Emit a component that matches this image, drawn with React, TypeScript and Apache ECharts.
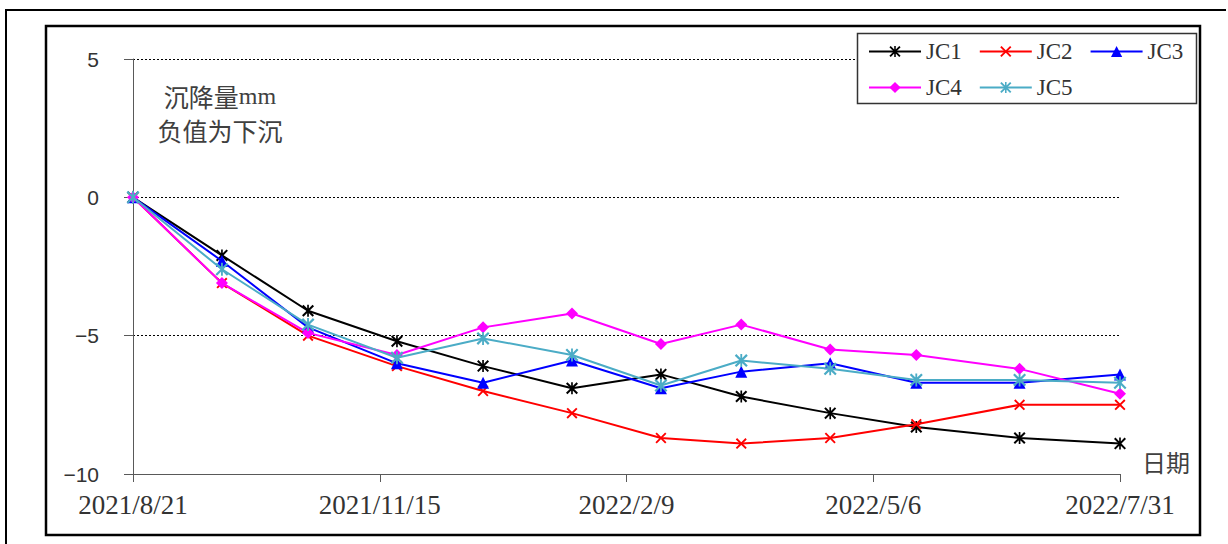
import React, { useEffect, useRef } from "react";
import * as echarts from "echarts";

const dates = [
  "2021-08-21", "2021-09-21", "2021-10-21", "2021-11-21", "2021-12-21", "2022-01-21",
  "2022-02-21", "2022-03-21", "2022-04-21", "2022-05-21", "2022-06-26", "2022-07-31",
];
const jc1 = [0, -2.1, -4.1, -5.2, -6.1, -6.9, -6.4, -7.2, -7.8, -8.3, -8.7, -8.9];
const jc2 = [0, -3.1, -5.0, -6.1, -7.0, -7.8, -8.7, -8.9, -8.7, -8.2, -7.5, -7.5];
const jc3 = [0, -2.3, -4.7, -6.0, -6.7, -5.9, -6.9, -6.3, -6.0, -6.7, -6.7, -6.4];
const jc4 = [0, -3.1, -4.9, -5.7, -4.7, -4.2, -5.3, -4.6, -5.5, -5.7, -6.2, -7.1];
const jc5 = [0, -2.6, -4.6, -5.8, -5.1, -5.7, -6.8, -5.9, -6.2, -6.6, -6.6, -6.7];
const seriesNames = ["JC1", "JC2", "JC3", "JC4", "JC5"];
const axisStart = "2021-08-21";
const axisEnd = "2022-07-31";
const tickDays = 86;

const DAY = 86400000;
const startMs = Date.parse(axisStart);
const toDay = (d: string) => Math.round((Date.parse(d) - startMs) / DAY);
const fmtDate = (v: number) => {
  const d = new Date(startMs + v * DAY);
  return `${d.getUTCFullYear()}/${d.getUTCMonth() + 1}/${d.getUTCDate()}`;
};

const X_PATH = "path://M0,1.2L1.2,0L5,3.8L8.8,0L10,1.2L6.2,5L10,8.8L8.8,10L5,6.2L1.2,10L0,8.8L3.8,5Z";
const STAR_PATH =
  "path://M0,1.2L1.2,0L5,3.8L8.8,0L10,1.2L6.2,5L10,8.8L8.8,10L5,6.2L1.2,10L0,8.8L3.8,5ZM4.3,0L5.7,0L5.7,10L4.3,10Z";

export default function App() {
  const ref = useRef<HTMLDivElement>(null);
  useEffect(() => {
    if (!ref.current) return;
    const chart = echarts.init(ref.current, undefined, { renderer: "svg" });
    const values = [jc1, jc2, jc3, jc4, jc5];
    const colors = ["#000000", "#FF0000", "#0000FF", "#FF00FF", "#4BACC6"];
    const symbols = [STAR_PATH, X_PATH, "triangle", "diamond", STAR_PATH];
    const sizes = [12, 11, 12, 12, 13];
    const series = values.map((arr, i) => ({
      name: seriesNames[i],
      type: "line",
      data: arr.map((v, j) => [toDay(dates[j]), v]),
      symbol: symbols[i],
      symbolSize: sizes[i],
      showAllSymbol: true,
      lineStyle: { color: colors[i], width: 2 },
      itemStyle: { color: colors[i] },
      z: 2 + i,
    }));
    const legendText = {
      fontFamily: "Liberation Serif",
      fontSize: 23,
      color: "#333",
    };
    const legendBase = {
      left: 868,
      padding: 0,
      itemWidth: 52,
      itemHeight: 14,
      itemGap: 17,
      orient: "horizontal",
      textStyle: legendText,
      z: 10,
    };
    chart.setOption({
      animation: false,
      backgroundColor: "#fff",
      grid: { left: 133, top: 59, width: 987, height: 415, containLabel: false },
      legend: [
        { ...legendBase, top: 40, data: seriesNames.slice(0, 3) },
        { ...legendBase, top: 76, data: seriesNames.slice(3) },
      ],
      xAxis: {
        type: "value",
        min: 0,
        max: toDay(axisEnd),
        interval: tickDays,
        axisLine: { show: true, onZero: false, lineStyle: { color: "#595959", width: 1 } },
        axisTick: { show: true, length: 8, lineStyle: { color: "#595959" } },
        axisLabel: {
          formatter: (v: number) => fmtDate(v),
          margin: 17,
          fontFamily: "Liberation Serif",
          fontSize: 27,
          color: "#333",
          showMinLabel: true,
          showMaxLabel: true,
        },
        splitLine: { show: false },
      },
      yAxis: {
        type: "value",
        min: -10,
        max: 5,
        interval: 5,
        axisLine: { show: true, onZero: false, lineStyle: { color: "#595959", width: 1 } },
        axisTick: { show: true, length: 9, lineStyle: { color: "#595959" } },
        axisLabel: {
          formatter: (v: number) => String(v).replace("-", "\u2212"),
          margin: 34,
          fontFamily: "Liberation Sans",
          fontSize: 21,
          color: "#333",
        },
        splitLine: { show: true, lineStyle: { color: "#000", type: [2, 2], width: 1 } },
      },
      graphic: [
        {
          type: "polyline",
          shape: { points: [[6, 544], [6, 10], [1226, 10]] },
          style: { stroke: "#000", lineWidth: 2, fill: null },
        },
        {
          type: "rect",
          shape: { x: 46, y: 26, width: 1154, height: 509 },
          style: { stroke: "#000", lineWidth: 2.5, fill: null },
        },
        {
          type: "rect",
          z: 5,
          shape: { x: 857.5, y: 33.5, width: 339, height: 70 },
          style: { stroke: "#333", lineWidth: 1.5, fill: "#fff" },
        },
        {
          type: "text",
          x: 220,
          y: 96,
          style: {
            text: "{a|沉降量}{b|mm}",
            align: "center",
            verticalAlign: "middle",
            rich: {
              a: { fontFamily: "Noto Sans CJK SC", fontSize: 25, fill: "#404040" },
              b: { fontFamily: "Liberation Serif", fontSize: 24, fill: "#404040" },
            },
          },
        },
        {
          type: "text",
          x: 220,
          y: 130,
          style: {
            text: "负值为下沉",
            align: "center",
            verticalAlign: "middle",
            fontFamily: "Noto Sans CJK SC",
            fontSize: 25,
            fill: "#404040",
          },
        },
        {
          type: "text",
          x: 1142,
          y: 461,
          style: {
            text: "日期",
            align: "left",
            verticalAlign: "middle",
            fontFamily: "Noto Sans CJK SC",
            fontSize: 24,
            fill: "#404040",
          },
        },
      ],
      series,
    });
    return () => chart.dispose();
  }, []);
  return (
    <div
      ref={ref}
      style={{ position: "absolute", left: 0, top: 0, width: 1228, height: 544 }}
    />
  );
}
